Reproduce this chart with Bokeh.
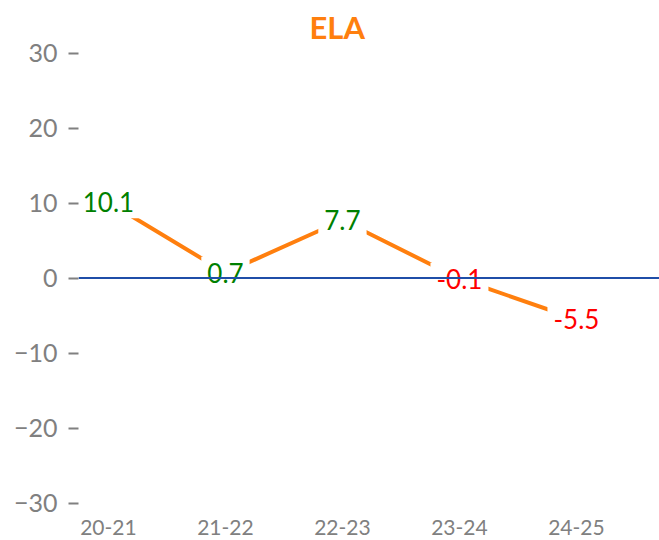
from bokeh.plotting import figure
from bokeh.models import Range1d, FixedTicker, Span, ColumnDataSource
from bokeh.core.properties import value
from bokeh.embed import file_html
from bokeh.resources import INLINE

seasons = ["20-21", "21-22", "22-23", "23-24", "24-25"]
values = [10.1, 0.7, 7.7, -0.1, -5.5]
y_ticks = [-30, -20, -10, 0, 10, 20, 30]

FONT = "Lato"
xs = list(range(len(seasons)))
colors = ["green" if v >= 0 else "red" for v in values]
labels = [f"{v:.1f}" for v in values]
src = ColumnDataSource(dict(x=xs, y=values, c=colors, t=labels))

p = figure(width=659, height=540, output_backend="svg", toolbar_location=None,
           x_range=Range1d(-0.256, 4.71), y_range=Range1d(-31, 31),
           min_border_left=78, min_border_right=0, min_border_top=45,
           min_border_bottom=30, title="ELA")
p.title.align = "left"
p.title.offset = 231
p.title.standoff = 0
p.title.text_color = "#FF7F0E"
p.title.text_font = FONT
p.title.text_font_size = "31px"
p.title.text_font_style = "bold"
p.outline_line_color = None
p.grid.visible = False
p.background_fill_color = "white"
p.border_fill_color = "white"

p.yaxis.ticker = FixedTicker(ticks=y_ticks)
p.yaxis.axis_line_color = None
p.yaxis.major_tick_in = 0
p.yaxis.major_tick_out = 10
p.yaxis.major_tick_line_color = "#808080"
p.yaxis.major_tick_line_width = 2
p.yaxis.minor_tick_line_color = None
p.yaxis.major_label_standoff = 11
p.yaxis.major_label_text_font = FONT
p.yaxis.major_label_text_font_size = "25px"
p.yaxis.major_label_text_color = "#808080"

p.xaxis.ticker = FixedTicker(ticks=xs)
p.xaxis.major_label_overrides = {i: s for i, s in enumerate(seasons)}
p.xaxis.axis_line_color = None
p.xaxis.major_tick_line_color = None
p.xaxis.minor_tick_line_color = None
p.xaxis.major_label_standoff = 3
p.xaxis.major_label_text_font = FONT
p.xaxis.major_label_text_font_size = "21px"
p.xaxis.major_label_text_color = "#808080"

p.add_layout(Span(location=0, dimension="width", line_color="#1F4EA8", line_width=2))
p.line("x", "y", source=src, line_color="#FF7F0E", line_width=4)
p.text(x="x", y="y", text="t", source=src, text_color="c",
       text_align="center", text_baseline="middle",
       text_font=value(FONT), text_font_size="26px",
       background_fill_color="white", padding=6)

open("out.html", "w").write(file_html(p, INLINE))
